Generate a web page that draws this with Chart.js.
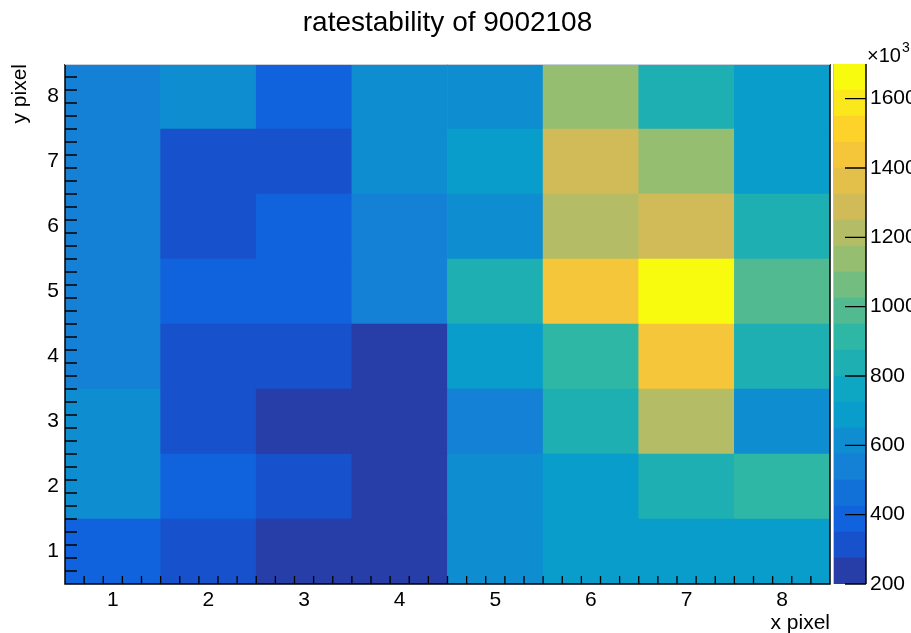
<!DOCTYPE html>
<html>
<head>
<meta charset="utf-8">
<script src="https://cdn.jsdelivr.net/npm/chart.js@4.4.0/dist/chart.umd.min.js"></script>
<style>
	html, body { margin: 0; padding: 0; background: #fff; }
	#wrap { position: relative; width: 911px; height: 633px; overflow: hidden; }
	#wrap canvas { position: absolute; left: 0; top: 0; }
</style>
</head>
<body>
<div id="wrap">
	<canvas id="map" width="911" height="633"></canvas>
	<canvas id="palette" width="911" height="633"></canvas>
</div>
<script>
// axis labels
var xPixels = [1, 2, 3, 4, 5, 6, 7, 8];
var yPixels = [1, 2, 3, 4, 5, 6, 7, 8];
var zTicks = [200, 400, 600, 800, 1000, 1200, 1400, 1600];

// rate per pixel (x10^3), one array per y pixel, x pixel 1..8
var row1 = [385, 320, 240, 203, 615, 690, 710, 695];
var row2 = [620, 395, 325, 215, 595, 705, 840, 900];
var row3 = [630, 300, 220, 210, 540, 830, 1210, 610];
var row4 = [535, 315, 330, 230, 680, 915, 1450, 835];
var row5 = [550, 380, 410, 555, 845, 1440, 1698, 990];
var row6 = [545, 305, 400, 560, 600, 1220, 1285, 850];
var row7 = [530, 310, 320, 615, 700, 1290, 1130, 685];
var row8 = [540, 610, 390, 620, 605, 1140, 840, 690];
var rows = [row1, row2, row3, row4, row5, row6, row7, row8];

var zMin = 200, zMax = 1700, nContours = 20;

// ROOT kBird palette
var birdStops = [0.0000, 0.1250, 0.2500, 0.3750, 0.5000, 0.6250, 0.7500, 0.8750, 1.0000];
var birdRed   = [0.2082, 0.0592, 0.0780, 0.0232, 0.1802, 0.5301, 0.8186, 0.9956, 0.9764];
var birdGreen = [0.1664, 0.3599, 0.5041, 0.6419, 0.7178, 0.7492, 0.7328, 0.7862, 0.9832];
var birdBlue  = [0.5293, 0.8684, 0.8385, 0.7914, 0.6425, 0.4662, 0.3499, 0.1968, 0.0539];

Chart.defaults.font.family = "'Liberation Sans', Arial, Helvetica, sans-serif";
Chart.defaults.color = '#000';

var heatmap = {
	font: "'Liberation Sans', Arial, Helvetica, sans-serif",

	birdColor: function(t) {
		for (var k = 1; k < birdStops.length; k++) {
			if (t <= birdStops[k] + 1e-9) {
				var f = (t - birdStops[k - 1]) / (birdStops[k] - birdStops[k - 1]);
				var c = function(arr) { return Math.round(255 * (arr[k - 1] + f * (arr[k] - arr[k - 1]))); };
				return 'rgb(' + c(birdRed) + ',' + c(birdGreen) + ',' + c(birdBlue) + ')';
			}
		}
		return 'rgb(249,251,14)';
	},

	// same contour -> colour lookup as THistPainter
	contourColor: function(v) {
		var band = Math.floor(0.01 + (v - zMin) * nContours / (zMax - zMin));
		band = Math.max(0, Math.min(nContours - 1, band));
		var idx = Math.floor((band + 0.99) * 255 / nContours);
		return heatmap.birdColor(idx / 254);
	},

	// inward ticks, frame and title, root style
	frame: {
		id: 'rootFrame',
		afterDraw: function(chart) {
			var ctx = chart.ctx, a = chart.chartArea;
			var xs = chart.scales.x, ys = chart.scales.y;
			ctx.save();
			ctx.strokeStyle = '#000';
			ctx.lineWidth = 1.3;
			ctx.beginPath();
			for (var k = 1; k < 40; k++) {
				var v = 0.5 + k * 0.2;
				var major = Math.abs(v - Math.round(v)) < 1e-6;
				var px = xs.getPixelForValue(v);
				ctx.moveTo(px, a.bottom);
				ctx.lineTo(px, a.bottom - (major ? 16 : 8));
				var py = ys.getPixelForValue(v);
				ctx.moveTo(a.left, py);
				ctx.lineTo(a.left + (major ? 24 : 12), py);
			}
			ctx.stroke();

			ctx.lineWidth = 1.5;
			ctx.beginPath();
			ctx.moveTo(a.left, a.top);
			ctx.lineTo(a.left, a.bottom);
			ctx.lineTo(a.right, a.bottom);
			ctx.lineTo(a.right, a.top);
			ctx.stroke();
			ctx.strokeStyle = '#c8d0dc';
			ctx.lineWidth = 1;
			ctx.beginPath();
			ctx.moveTo(a.left, a.top + 0.5);
			ctx.lineTo(a.right, a.top + 0.5);
			ctx.stroke();

			ctx.fillStyle = '#000';
			ctx.font = '28px ' + heatmap.font;
			ctx.textAlign = 'center';
			ctx.textBaseline = 'alphabetic';
			ctx.fillText('ratestability of 9002108', (a.left + a.right) / 2, 31);
			ctx.restore();
		}
	},

	paletteFrame: {
		id: 'paletteFrame',
		afterDraw: function(chart) {
			var ctx = chart.ctx, a = chart.chartArea, zs = chart.scales.y;
			ctx.save();
			ctx.strokeStyle = '#000';
			ctx.lineWidth = 1.3;
			ctx.beginPath();
			zTicks.forEach(function(z) {
				var py = zs.getPixelForValue(z);
				ctx.moveTo(a.right, py);
				ctx.lineTo(a.right - 21, py);
			});
			ctx.stroke();
			ctx.lineWidth = 1.5;
			ctx.beginPath();
			ctx.moveTo(a.right, a.top);
			ctx.lineTo(a.right, a.bottom);
			ctx.stroke();
			ctx.strokeStyle = '#b8c0cc';
			ctx.lineWidth = 1;
			ctx.beginPath();
			ctx.moveTo(a.left - 0.5, a.top);
			ctx.lineTo(a.left - 0.5, a.bottom);
			ctx.stroke();

			// exponent
			ctx.fillStyle = '#000';
			ctx.textAlign = 'left';
			ctx.textBaseline = 'alphabetic';
			ctx.font = '20px ' + heatmap.font;
			ctx.fillText('\u00d710', a.right + 1, 62);
			ctx.font = '14px ' + heatmap.font;
			ctx.fillText('3', a.right + 36, 52);
			ctx.restore();
		}
	},

	render: function() {
		var datasets = rows.map(function(vals, r) {
			var y = yPixels[r];
			return {
				data: xPixels.map(function(x) { return { x: x, y: [y - 0.5, y + 0.5] }; }),
				backgroundColor: vals.map(heatmap.contourColor),
				borderWidth: 0,
				grouped: false,
				barPercentage: 1,
				categoryPercentage: 1
			};
		});

		new Chart(document.getElementById('map').getContext('2d'), {
			type: 'bar',
			data: { datasets: datasets },
			options: {
				responsive: false,
				animation: false,
				events: [],
				layout: { padding: { left: 0, right: 81, top: 64, bottom: 0 } },
				plugins: { legend: { display: false }, tooltip: { enabled: false } },
				scales: {
					x: {
						type: 'linear',
						offset: false,
						min: 0.5,
						max: 8.5,
						afterBuildTicks: function(s) { s.ticks = xPixels.map(function(v) { return { value: v }; }); },
						afterFit: function(s) { s.height = 49; },
						grid: { display: false, drawTicks: false, offset: false },
						border: { display: false },
						ticks: { padding: 4, font: { size: 21 }, color: '#000', maxRotation: 0, autoSkip: false },
						title: { display: true, text: 'x pixel', align: 'end', font: { size: 21 }, color: '#000', padding: { top: 0, bottom: -3 } }
					},
					y: {
						type: 'linear',
						min: 0.5,
						max: 8.5,
						afterBuildTicks: function(s) { s.ticks = yPixels.map(function(v) { return { value: v }; }); },
						afterFit: function(s) { s.width = 65; },
						grid: { display: false, drawTicks: false },
						border: { display: false },
						ticks: { padding: 6, font: { size: 21 }, color: '#000', autoSkip: false },
						title: { display: true, text: 'y pixel', align: 'end', font: { size: 21 }, color: '#000', padding: { top: 8, bottom: 0 } }
					}
				}
			},
			plugins: [heatmap.frame]
		});

		// colour scale
		var step = (zMax - zMin) / nContours;
		var bands = [];
		for (var i = 0; i < nContours; i++) {
			var lo = zMin + i * step;
			bands.push({
				data: [[lo, lo + step]],
				backgroundColor: heatmap.contourColor(lo + step / 2),
				borderWidth: 0,
				grouped: false,
				barPercentage: 1,
				categoryPercentage: 1
			});
		}

		new Chart(document.getElementById('palette').getContext('2d'), {
			type: 'bar',
			data: { labels: ['z'], datasets: bands },
			options: {
				responsive: false,
				animation: false,
				events: [],
				layout: { padding: { left: 834, right: 0, top: 64, bottom: 49 } },
				plugins: { legend: { display: false }, tooltip: { enabled: false } },
				scales: {
					x: { display: false },
					y: {
						position: 'right',
						min: zMin,
						max: zMax,
						afterBuildTicks: function(s) { s.ticks = zTicks.map(function(v) { return { value: v }; }); },
						afterFit: function(s) { s.width = 45; },
						grid: { display: false, drawTicks: false },
						border: { display: false },
						ticks: { padding: 4, font: { size: 21 }, color: '#000', autoSkip: false, callback: function(v) { return String(v); } }
					}
				}
			},
			plugins: [heatmap.paletteFrame]
		});
	}
};

heatmap.render();
</script>
</body>
</html>
